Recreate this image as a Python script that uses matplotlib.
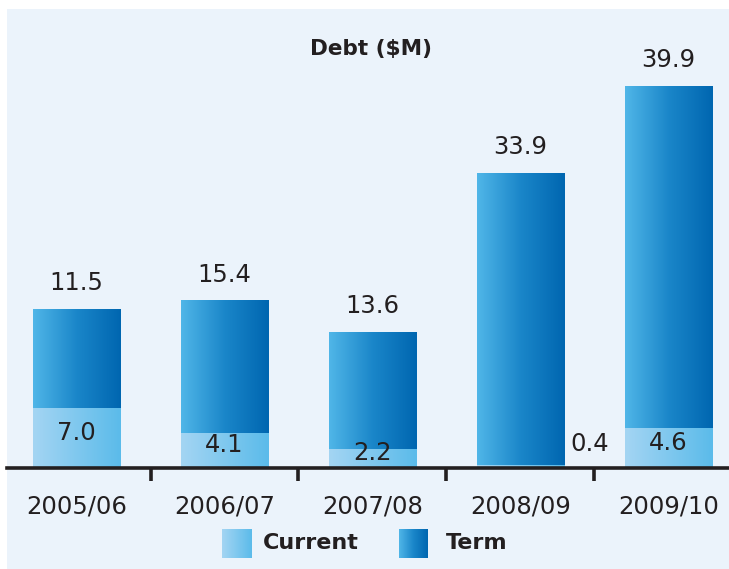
import numpy as np
import matplotlib
matplotlib.use("Agg")
from matplotlib import pyplot as plt
from matplotlib.colors import LinearSegmentedColormap
from matplotlib.patches import Rectangle

years = ["2005/06", "2006/07", "2007/08", "2008/09", "2009/10"]
current = [7.0, 4.1, 2.2, 0.4, 4.6]
term = [11.5, 15.4, 13.6, 33.9, 39.9]

txt = "#231f20"
bg = "#ebf3fb"
cur_cmap = LinearSegmentedColormap.from_list("cur", ["#a4d5f3", "#5bbbea"])
term_cmap = LinearSegmentedColormap.from_list("term", ["#50b6e8", "#1a86c9", "#0066b0"])

W, H = 729, 569
fig = plt.figure(figsize=(W / 100, H / 100), dpi=100)
fig.patch.set_facecolor("white")
fig.patches.append(Rectangle((7 / W, 0), 1, 1 - 9 / H, transform=fig.transFigure,
                             facecolor=bg, edgecolor="none", zorder=-10))

ax = fig.add_axes([7 / W, (H - 468) / H, 722 / W, (468 - 9) / H])
ax.set_facecolor("none")
x = np.arange(len(years))
width = 0.59


def gradient_fill(bars, cmap):
    grad = np.linspace(0, 1, 256).reshape(1, -1)
    for b in bars:
        bx, by = b.get_x(), b.get_y()
        im = ax.imshow(grad, cmap=cmap, aspect="auto", zorder=1.5,
                       extent=[bx, bx + b.get_width(), by, by + b.get_height()])
        im.set_clip_path(b)


cur_bars = ax.bar(x, current, width, color="none", edgecolor="none")
term_bars = ax.bar(x, term, width, bottom=current, color="none", edgecolor="none")
gradient_fill(cur_bars, cur_cmap)
gradient_fill(term_bars, term_cmap)

ax.set_xlim(-0.47, 4.41)
ax.set_ylim(0, 53.4)

# value labels
for i in x:
    top = current[i] + term[i]
    ax.annotate(f"{term[i]:.1f}", (i, top), xytext=(0, 13.5), textcoords="offset points",
                ha="center", va="baseline", fontsize=17.5, color=txt)
    if current[i] < 1:
        ax.text(i + width / 2 + 0.04, 2.8, f"{current[i]:.1f}", ha="left", va="center",
                fontsize=17.5, color=txt, zorder=3)
    else:
        ax.text(i, current[i] / 2 + 0.6, f"{current[i]:.1f}", ha="center", va="center",
                fontsize=17.5, color=txt, zorder=3)

for s in ["top", "left", "right"]:
    ax.spines[s].set_visible(False)
ax.spines["bottom"].set_linewidth(2.6)
ax.spines["bottom"].set_color(txt)
ax.spines["bottom"].set_zorder(4)
ax.set_yticks([])
ax.set_xticks(x)
ax.set_xticklabels(years, fontsize=17.5, color=txt)
ax.tick_params(axis="x", which="major", length=0, pad=19)
ax.set_xticks(x[:-1] + 0.5, minor=True)
ax.tick_params(axis="x", which="minor", length=9, width=2.6, color=txt, direction="out")

fig.text(371 / W, 1 - 49 / H, "Debt ($M)", ha="center", va="center",
         fontsize=15.5, fontweight="bold", color=txt)

# legend
grad = np.linspace(0, 1, 256).reshape(1, -1)
for left, label, tx, cmap in [(222, "Current", 263, cur_cmap), (399, "Term", 446, term_cmap)]:
    lax = fig.add_axes([left / W, (H - 558) / H, 29 / W, 29 / H])
    lax.imshow(grad, cmap=cmap, aspect="auto")
    lax.set_axis_off()
    fig.text(tx / W, 1 - 543 / H, label, ha="left", va="center",
             fontsize=16, fontweight="bold", color=txt)

fig.savefig("out.png", dpi=100, facecolor=fig.get_facecolor())
